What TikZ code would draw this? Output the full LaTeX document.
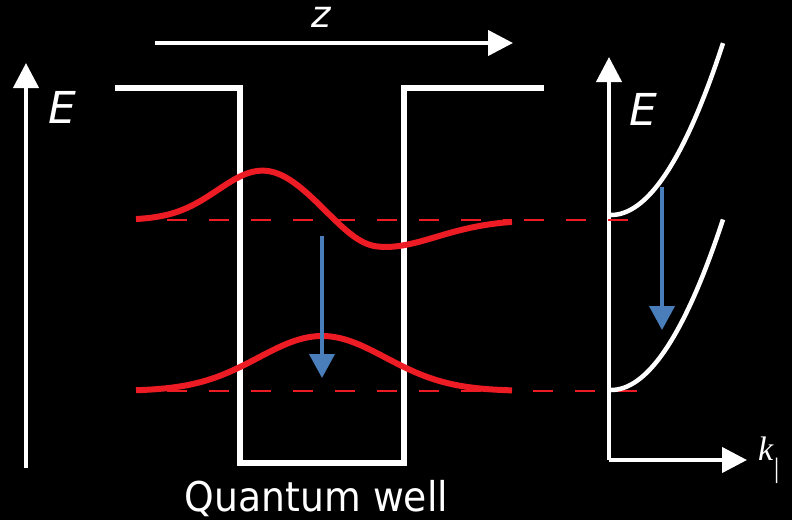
\documentclass[tikz,border=0pt]{standalone}
\usepackage{fontspec}
\setmainfont{DejaVu Sans}
\newfontfamily\kfont{Liberation Serif}
\usepackage{graphicx}
\usetikzlibrary{arrows.meta}
\definecolor{wavered}{RGB}{237,28,36}
\definecolor{transblue}{RGB}{74,126,187}
\tikzset{
  axisline/.style={white, line width=4.2pt, -{Triangle[length=25pt,width=25pt]}},
  wellline/.style={white, line width=6.5pt, line join=miter},
  bandline/.style={white, line width=4.5pt},
  wave/.style={wavered, line width=6pt},
  levelline/.style={wavered, line width=2pt, dash pattern=on 20pt off 22pt},
  transarrow/.style={transblue, line width=4pt, -{Triangle[length=24pt,width=25pt]}},
  lbl/.style={text=white, inner sep=0pt, font=\fontsize{44}{44}\selectfont\itshape},
}
\begin{document}
\begin{tikzpicture}[x=1pt,y=-1pt]
\fill[black] (0,0) rectangle (792,520);
\useasboundingbox (0,0) rectangle (792,520);

% coordinates
\coordinate (Ebot) at (26,468);
\coordinate (Etop) at (26,63);
\coordinate (zstart) at (155,43);
\coordinate (zend) at (513,43);
\coordinate (w1) at (115,88);
\coordinate (w2) at (240,88);
\coordinate (w3) at (240,463);
\coordinate (w4) at (404,463);
\coordinate (w5) at (404,88);
\coordinate (w6) at (544,88);
\coordinate (origin) at (609,460);
\coordinate (Eax) at (609,57);
\coordinate (kax) at (747,460);

% axes
\draw[axisline] (Ebot) -- (Etop);
\draw[axisline] (zstart) -- (zend);
\draw[axisline] (origin) -- (Eax);
\draw[axisline] (origin) -- (kax);

% quantum well
\draw[wellline] (w1) -- (w2) -- (w3) -- (w4) -- (w5) -- (w6);

% levels
\coordinate (l1a) at (167,220);
\coordinate (l1b) at (512,220);
\coordinate (l1c) at (524,220);
\coordinate (l1d) at (630,220);
\coordinate (l2a) at (167,391);
\coordinate (l2b) at (512,391);
\coordinate (l2c) at (533,391);
\coordinate (l2d) at (640,391);
\draw[levelline] (l1a) -- (l1b);
\draw[levelline] (l1c) -- (l1d);
\draw[levelline] (l2a) -- (l2b);
\draw[levelline] (l2c) -- (l2d);

% wavefunctions
\draw[wave] plot[domain=136:512, samples=120, smooth]
  ({\x},{220 - 49.5*exp(-((\x-263)/64)*((\x-263)/64)) + 28.5*exp(-((\x-377)/(50+32*(\x>377)))*((\x-377)/(50+32*(\x>377))))});
\draw[wave] plot[domain=136:512, samples=120, smooth]
  ({\x},{391 - 55*exp(-((\x-322)/90)*((\x-322)/90))});

% subbands
\draw[bandline] plot[domain=0:112, samples=60] ({611+\x},{215-0.0137*\x*\x});
\draw[bandline] plot[domain=0:112, samples=60] ({611+\x},{390-0.0136*\x*\x});

% transitions
\coordinate (t1a) at (322,236);
\coordinate (t1b) at (322,378);
\coordinate (t2a) at (662,187);
\coordinate (t2b) at (662,330);
\draw[transarrow] (t1a) -- (t1b);
\draw[transarrow] (t2a) -- (t2b);

% labels
\node[lbl] (E1) at (62,107) {E};
\node[lbl] (E2) at (643,109) {E};
\node[text=white, inner sep=0pt, font=\fontsize{37}{37}\selectfont\itshape] (z) at (321,17) {z};
\node[text=white, inner sep=0pt, anchor=base, font=\fontsize{41}{41}\selectfont] (qw) at (316.5,511) {\scalebox{0.92}[1]{Quantum well}};
\node[text=white, inner sep=0pt, anchor=base west, font=\kfont\fontsize{34}{34}\selectfont] (k) at (758,460) {\textit{k}\raisebox{-17pt}{\fontsize{28}{28}\selectfont|}};
\end{tikzpicture}
\end{document}
